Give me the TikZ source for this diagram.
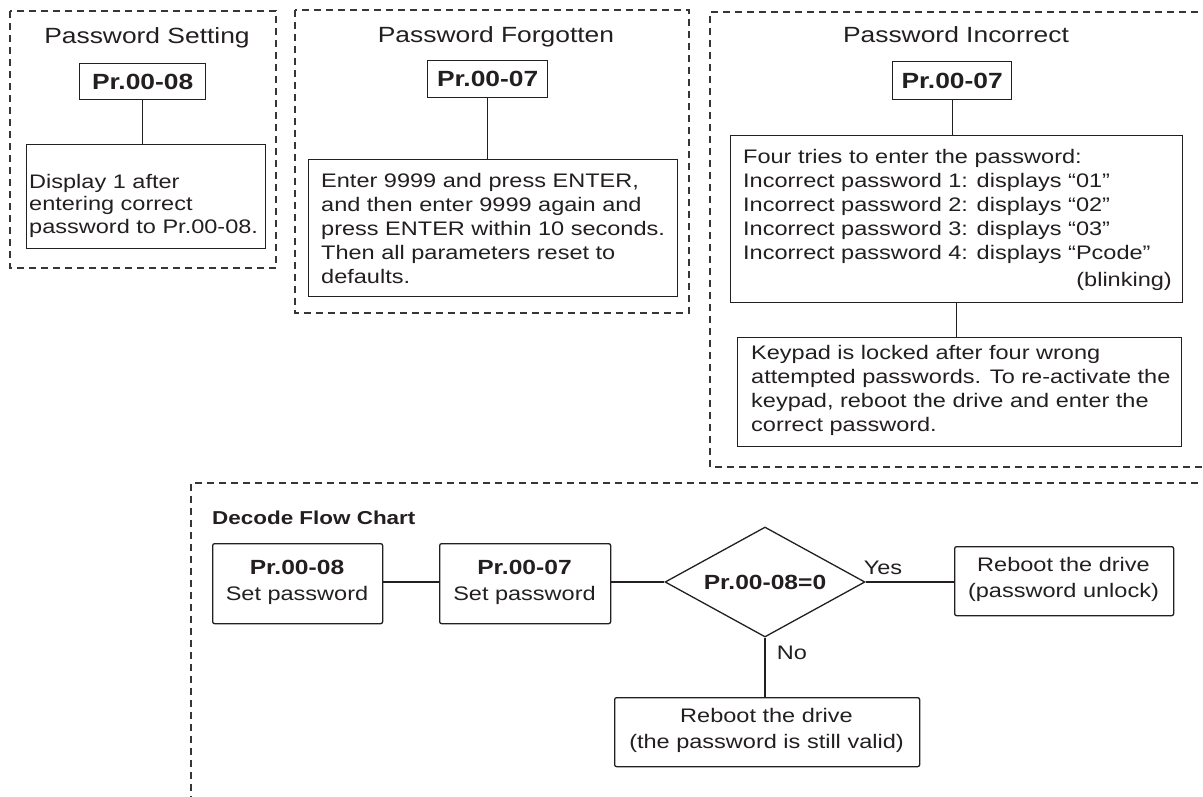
\documentclass[tikz,border=0pt]{standalone}
\usepackage{fontspec}
\setmainfont{Liberation Sans}[FakeStretch=1.2]
\usetikzlibrary{shapes.geometric}
\definecolor{ink}{HTML}{231F20}
\begin{document}
\begin{tikzpicture}[x=1pt,y=-1pt,
  every node/.style={text=ink, inner sep=0pt},
  frame/.style={draw=ink!90, line width=1.2pt, dash pattern=on 7pt off 5pt},
  box/.style={draw=ink, line width=1.3pt, anchor=north west, inner sep=0pt},
  link/.style={draw=ink, line width=1.3pt},
  title/.style={font=\fontsize{22}{26}\selectfont},
  prf/.style={font=\fontsize{22}{26}\selectfont\bfseries},
  fprf/.style={font=\fontsize{20.5}{24}\selectfont\bfseries},
  body/.style={font=\fontsize{19.6}{24}\selectfont, align=left, anchor=west},
  fbody/.style={font=\fontsize{19.6}{26}\selectfont, align=center},
  fbox/.style={box, rounded corners=2pt},
]
\useasboundingbox (0,0) rectangle (1203,796);

% ---------- Password Setting ----------
\draw[frame] (10,11) rectangle (276,268);
\node[title] (t1) at (147,38) {Password Setting};
\node[box, prf, minimum width=126, minimum height=36] (pr1) at (79,63) {Pr.00-08};
\node[box, minimum width=239, minimum height=104] (d1) at (26,144) {};
\node[body, font=\fontsize{19.6}{22.5}\selectfont] (d1t) at (29,205.5)
  {Display 1 after\\entering correct\\password to Pr.00-08.};
\draw[link] (pr1.south) -- (pr1.south |- d1.north);

% ---------- Password Forgotten ----------
\draw[frame] (295,10) rectangle (689,313);
\node[title] (t2) at (496,37) {Password Forgotten};
\node[box, prf, minimum width=120, minimum height=37] (pr2) at (427,60) {Pr.00-07};
\node[box, minimum width=369, minimum height=137] (d2) at (308,159) {};
\node[body] (d2t) at (321,228.5)
  {Enter 9999 and press ENTER,\\and then enter 9999 again and\\press ENTER within 10 seconds.\\Then all parameters reset to\\defaults.};
\draw[link] (pr2.south) -- (pr2.south |- d2.north);

% ---------- Password Incorrect ----------
\draw[frame] (1210,12) -- (710,12) -- (710,467) -- (1210,467);
\node[title] (t3) at (956,35) {Password Incorrect};
\node[box, prf, minimum width=119, minimum height=38] (pr3) at (892,61) {Pr.00-07};
\node[box, minimum width=452, minimum height=167] (d3) at (730,135) {};
\node[body] (d3t) at (743,206.5)
  {Four tries to enter the password:\\Incorrect password 1: displays “01"\\Incorrect password 2: displays “02"\\Incorrect password 3: displays “03"\\Incorrect password 4: displays “Pcode”};
\node[font=\fontsize{19.6}{24}\selectfont, anchor=east] (blink) at (1172,281) {(blinking)};
\node[box, minimum width=444, minimum height=109] (d4) at (737,337) {};
\node[body] (d4t) at (751,390.5)
  {Keypad is locked after four wrong\\attempted passwords. To re-activate the\\keypad, reboot the drive and enter the\\correct password.};
\draw[link] (pr3.south) -- (pr3.south |- d3.north);
\draw[link] (d3.south) -- (d3.south |- d4.north);

% ---------- Decode Flow Chart ----------
\draw[frame] (1210,483) -- (191,483) -- (191,800);
\node[font=\fontsize{18.7}{22}\selectfont\bfseries, anchor=west] (dfc) at (212,518) {Decode Flow Chart};
\node[fbox, minimum width=170, minimum height=80] (fa) at (212,543) {};
\node[fbody] (fat) at (297,582) {{\bfseries\fontsize{20.5}{24}\selectfont Pr.00-08}\\Set password};
\node[fbox, minimum width=171, minimum height=80] (fb) at (439,543) {};
\node[fbody] (fbt) at (524.5,582) {{\bfseries\fontsize{20.5}{24}\selectfont Pr.00-07}\\Set password};
\node[diamond, draw=ink, line width=1.3pt, shape aspect=1.82, minimum width=200, minimum height=110, fprf] (dia) at (765,582) {Pr.00-08=0};
\node[fbox, minimum width=219, minimum height=69] (fy) at (954,546) {};
\node[fbody] (fyt) at (1063.5,579) {Reboot the drive\\(password unlock)};
\node[fbox, minimum width=305, minimum height=69] (fn) at (614,697) {};
\node[fbody] (fnt) at (766.5,730) {Reboot the drive\\(the password is still valid)};
\node[font=\fontsize{19.6}{24}\selectfont] (yes) at (883,568) {Yes};
\node[font=\fontsize{19.6}{24}\selectfont] (no) at (792,653) {No};

\draw[link] (fa.east |- dia.west) -- (fb.west |- dia.west);
\draw[link] (fb.east |- dia.west) -- (dia.west);
\draw[link] (dia.east) -- (fy.west |- dia.east);
\draw[link] (dia.south) -- (dia.south |- fn.north);
\end{tikzpicture}
\end{document}
